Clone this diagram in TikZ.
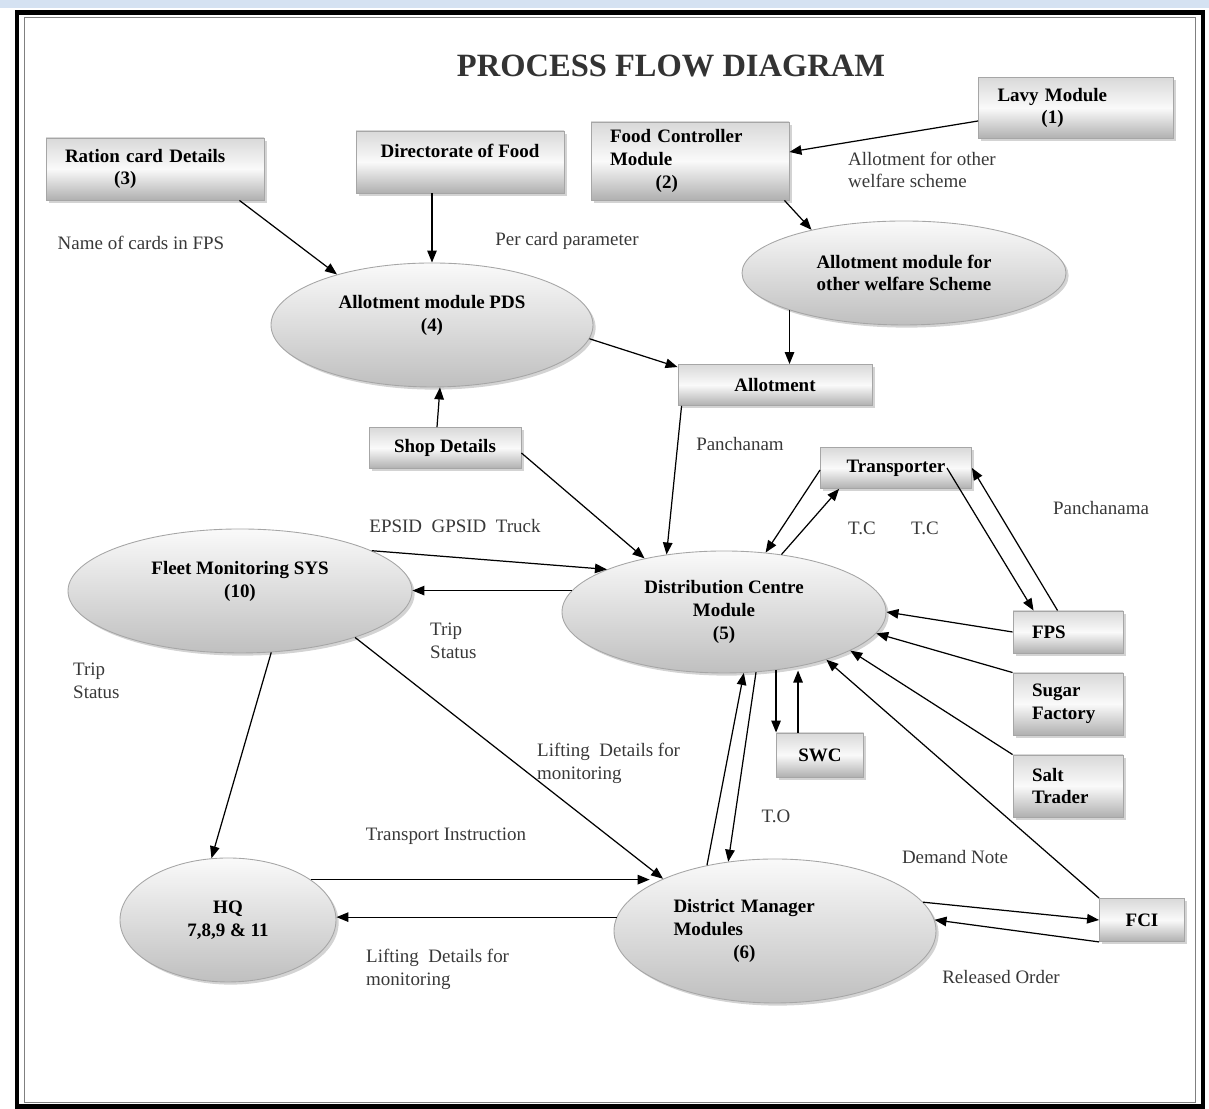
\documentclass[tikz,border=0pt]{standalone}
\usepackage{fontspec}
\setmainfont{Liberation Serif}
\usetikzlibrary{arrows.meta, calc, shapes.geometric, shadows}
\definecolor{chrome}{HTML}{D5E2F2}
\definecolor{lblgray}{HTML}{383838}

\begin{document}
\begin{tikzpicture}[
  >={Triangle[length=2.4mm, width=1.9mm]},
  font=\fontsize{10.8}{13}\selectfont,
  procbox/.style={rectangle, draw=gray!70, line width=0.5pt,
                  top color=gray!30, bottom color=gray!62, middle color=gray!4,
                  drop shadow={shadow xshift=1.5pt, shadow yshift=-1.5pt, opacity=0.35},
                  font=\fontsize{10.8}{13}\selectfont\bfseries, align=center, inner sep=2pt},
  procell/.style={ellipse, draw=gray!70, line width=0.5pt,
                  top color=gray!4, bottom color=gray!50,
                  drop shadow={shadow xshift=1.5pt, shadow yshift=-1.5pt, opacity=0.35},
                  font=\fontsize{10.8}{13}\selectfont\bfseries, align=center},
  leftext/.style={align=left, inner xsep=0.38cm, text width=#1},
  flowlbl/.style={text=lblgray, align=left},
  flow/.style={->, line width=0.7pt},
]
\useasboundingbox (0,0) rectangle (24.18,22.18);

% Page frame
\fill[chrome] (0,22.02) rectangle (24.18,22.18);
\draw[line width=0.9mm] (0.34,0.05) rectangle (24.06,21.93);
\draw[gray, line width=0.4pt] (0.48,0.14) rectangle (23.90,21.84);

% Title
\node[font=\fontsize{18.5}{22}\selectfont\bfseries, text=black!80] (title) at (13.42,20.86)
  {PROCESS FLOW DIAGRAM};

% ============ Top row ============
\node[procbox, leftext=3.14cm, minimum width=3.90cm, minimum height=1.22cm] (lavy) at (21.52,20.02)
  {Lavy Module\\\hspace*{25pt}(1)};
\node[procbox, leftext=3.20cm, minimum width=3.92cm, minimum height=1.56cm] (fcm) at (13.80,18.96)
  {Food Controller\\Module\\\hspace*{26pt}(2)};
\node[procbox, leftext=3.60cm, minimum width=4.32cm, minimum height=1.24cm] (ration) at (3.10,18.80)
  {Ration card Details\\\hspace*{28pt}(3)};
\node[procbox, minimum width=4.16cm, minimum height=1.24cm] (dirfood) at (9.20,18.94)
  {Directorate of Food\\\mbox{}};

% Allotment modules
\node[procell, minimum width=6.48cm, minimum height=2.08cm] (welfare) at (18.08,16.72)
  {Allotment module for\\other welfare Scheme};
\node[procell, minimum width=6.44cm, minimum height=2.48cm] (pds) at (8.64,15.68)
  {Allotment module PDS\\(4)\\\mbox{}};
\node[procbox, minimum width=3.88cm, minimum height=0.82cm] (allot) at (15.50,14.48) {Allotment};
\node[procbox, minimum width=3.04cm, minimum height=0.82cm] (shop) at (8.90,13.22) {Shop Details};
\node[procbox, minimum width=3.02cm, minimum height=0.82cm] (transp) at (17.92,12.82) {Transporter};

% ============ Middle ============
\node[procell, minimum width=6.48cm, minimum height=2.44cm] (dc) at (14.48,9.94)
  {Distribution Centre\\Module\\(5)};
\node[procell, minimum width=6.88cm, minimum height=2.48cm] (fleet) at (4.80,10.36)
  {Fleet Monitoring SYS\\(10)\\\mbox{}};
\node[procbox, leftext=1.44cm, minimum width=2.20cm, minimum height=0.84cm] (fps) at (21.36,9.54) {FPS};
\node[procbox, leftext=1.44cm, minimum width=2.20cm, minimum height=1.24cm] (sugar) at (21.36,8.10)
  {Sugar\\Factory};
\node[procbox, leftext=1.44cm, minimum width=2.20cm, minimum height=1.24cm] (salt) at (21.36,6.46)
  {Salt\\Trader};
\node[procbox, minimum width=1.74cm, minimum height=0.88cm] (swc) at (16.40,7.08) {SWC};

% ============ Bottom ============
\node[procell, minimum width=4.32cm, minimum height=2.48cm] (hq) at (4.56,3.78) {HQ\\7,8,9 \& 11};
\node[procell, align=left, text width=4.06cm, minimum width=6.44cm, minimum height=2.88cm] (dmm) at (15.50,3.56)
  {District Manager\\Modules\\\hspace*{34pt}(6)};
\node[procbox, minimum width=1.70cm, minimum height=0.86cm] (fci) at (22.84,3.78) {FCI};

% Connectors
\draw[flow] ($(lavy.west)+(0,-0.26)$) -- ($(fcm.east)+(0,0.18)$);
\draw[flow] ($(fcm.south east)+(-0.1,0)$) -- (welfare.155);
\draw[flow] ($(ration.south east)+(-0.5,0)$) -- (pds.152);
\draw[flow] (dirfood.south -| pds.north) -- (pds.north);
\draw[flow] (welfare.-162) -- (welfare.-162 |- allot.north);
\draw[flow] (pds.-5) -- ($(allot.north west)+(0,-0.06)$);
\draw[flow] ($(shop.north)+(-0.16,0)$) -- ($(pds.south)+(0.16,0)$);
\draw[flow] ($(shop.east)+(0,-0.1)$) -- (dc.146);
\draw[flow] ($(allot.south west)+(0.08,0)$) -- (dc.135);
\draw[flow] ($(transp.west)+(0,-0.04)$) -- (dc.55);
\draw[flow] (dc.45) -- ($(transp.south west)+(0.38,0)$);
\draw[flow] ($(transp.east)+(-0.5,0)$) -- ($(fps.north west)+(0.42,0)$);
\draw[flow] ($(fps.north west)+(0.9,0)$) -- (transp.east);
\draw[flow] (fps.west) -- (dc.east);
\draw[flow] (sugar.north west) -- (dc.-8);
\draw[flow] (salt.north west) -- (dc.-17);
\draw[flow] (fci.north west) -- (dc.-25);
\draw[flow] (swc.north west |- dc.-48) -- (swc.north west);
\coordinate (swcup) at ($(swc.north west)+(0.44,0)$);
\draw[flow] (swcup) -- (swcup |- dc.-50);
\draw[flow] (dc.172) -- (dc.172 -| fleet.east);
\draw[flow] (fleet.17) -- (dc.160);
\draw[flow] (fleet.-63) -- (hq.105);
\draw[flow] (fleet.-22) -- (dmm.155);
\draw[flow] (hq.26) -- (hq.26 -| dmm.160);
\draw[flow] (dmm.175) -- (dmm.175 -| hq.east);
\draw[flow] (dmm.136) -- (dc.-72);
\draw[flow] (dc.-62) -- (dmm.124);
\draw[flow] (dmm.11) -- (fci.west);
\draw[flow] (fci.south west) -- (dmm.4);

% Flow labels
\node[flowlbl] (lcards) at (2.82,17.32) {Name of cards in FPS};
\node[flowlbl] (lparam) at (11.34,17.36) {Per card parameter};
\node[flowlbl, anchor=west] (lother) at (16.84,18.78) {Allotment for other\\welfare scheme};
\node[flowlbl] (lpanch) at (14.80,13.30) {Panchanam};
\node[flowlbl] (lpancha) at (22.02,12.02) {Panchanama};
\node[flowlbl] (ltca) at (17.24,11.62) {T.C};
\node[flowlbl] (ltcb) at (18.50,11.62) {T.C};
\node[flowlbl] (lepsid) at (9.10,11.66) {EPSID\ \ GPSID\ \ Truck};
\node[flowlbl, anchor=west] (ltripa) at (8.48,9.36) {Trip\\Status};
\node[flowlbl, anchor=west] (ltripb) at (1.34,8.56) {Trip\\Status};
\node[flowlbl, anchor=west] (lliftm) at (10.62,6.92) {Lifting\ \ Details for\\monitoring};
\node[flowlbl] (lto) at (15.52,5.86) {T.O};
\node[flowlbl] (ltrans) at (8.92,5.46) {Transport Instruction};
\node[flowlbl] (ldemand) at (19.10,5.04) {Demand Note};
\node[flowlbl, anchor=west] (lliftb) at (7.20,2.80) {Lifting\ \ Details for\\monitoring};
\node[flowlbl] (lrel) at (20.02,2.64) {Released Order};

\end{tikzpicture}
\end{document}
